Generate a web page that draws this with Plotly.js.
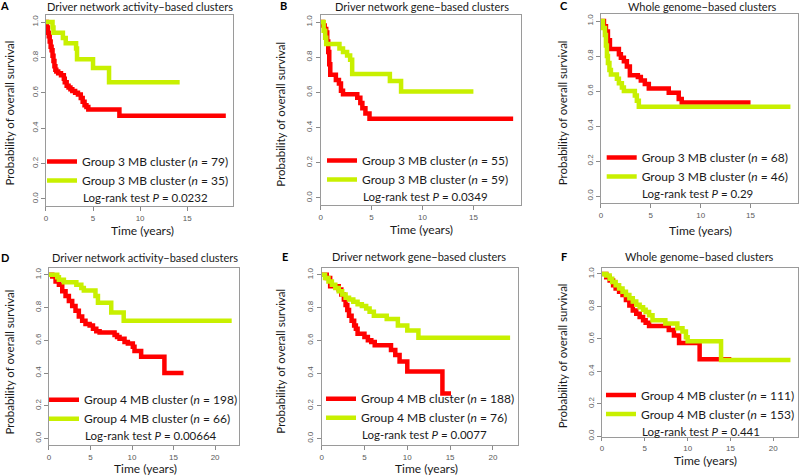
<!DOCTYPE html>
<html>
<head>
<meta charset="utf-8">
<script src="https://cdn.plot.ly/plotly-3.0.1.min.js"></script>
<style>html,body{margin:0;padding:0;background:#fff;}#chart{width:800px;height:476px;}</style>
</head>
<body>
<div id="chart"></div>
<script>
// ---------------- DATA ----------------
const panelLetters = ['A', 'B', 'C', 'D', 'E', 'F'];
const panelTitles = [
  'Driver network activity\u2212based clusters',
  'Driver network gene\u2212based clusters',
  'Whole genome\u2212based clusters',
  'Driver network activity\u2212based clusters',
  'Driver network gene\u2212based clusters',
  'Whole genome\u2212based clusters'
];
const redNames = [
  'Group 3 MB cluster (<i>n</i> = 79)',
  'Group 3 MB cluster (<i>n</i> = 55)',
  'Group 3 MB cluster (<i>n</i> = 68)',
  'Group 4 MB cluster (<i>n</i> = 198)',
  'Group 4 MB cluster (<i>n</i> = 188)',
  'Group 4 MB cluster (<i>n</i> = 111)'
];
const greenNames = [
  'Group 3 MB cluster (<i>n</i> = 35)',
  'Group 3 MB cluster (<i>n</i> = 59)',
  'Group 3 MB cluster (<i>n</i> = 46)',
  'Group 4 MB cluster (<i>n</i> = 66)',
  'Group 4 MB cluster (<i>n</i> = 76)',
  'Group 4 MB cluster (<i>n</i> = 153)'
];
const pValues = ['0.0232', '0.0349', '0.29', '0.00664', '0.0077', '0.441'];
const xTitle = 'Time (years)';
const yTitle = 'Probability of overall survival';
const xTicksTop = [0, 5, 10, 15];
const xTicksBottom = [0, 5, 10, 15, 20];
const yTicks = [0, 0.2, 0.4, 0.6, 0.8, 1.0];
const yTickText = ['0.0', '0.2', '0.4', '0.6', '0.8', '1.0'];

// Panel A
const aRedT = [0, 0.1, 0.2, 0.3, 0.4, 0.5, 0.6, 0.7, 0.8, 0.9, 1.0, 1.1, 1.3, 1.6, 1.9, 2.0, 2.2, 2.4, 2.6, 2.8, 3.1, 3.4, 3.7, 3.9, 4.1, 4.3, 4.5, 7.8, 19.1];
const aRedS = [1.0, 0.97, 0.94, 0.92, 0.89, 0.86, 0.84, 0.81, 0.78, 0.75, 0.73, 0.72, 0.71, 0.70, 0.68, 0.66, 0.64, 0.63, 0.62, 0.61, 0.60, 0.59, 0.57, 0.55, 0.53, 0.52, 0.505, 0.47, 0.47];
const aGreenT = [0, 0.7, 0.8, 1.8, 2.1, 3.2, 3.3, 5.0, 6.7, 14.2];
const aGreenS = [1.0, 0.97, 0.94, 0.91, 0.88, 0.85, 0.79, 0.74, 0.66, 0.66];
// Panel B
const bRedT = [0, 0.2, 0.4, 0.55, 0.65, 0.75, 0.85, 0.95, 1.5, 1.8, 2.0, 2.2, 3.6, 3.9, 4.1, 4.4, 4.8, 18.9];
const bRedS = [1.0, 0.98, 0.96, 0.94, 0.89, 0.83, 0.76, 0.70, 0.67, 0.65, 0.61, 0.59, 0.57, 0.54, 0.51, 0.48, 0.45, 0.45];
const bGreenT = [0, 0.3, 0.45, 0.55, 1.85, 2.2, 2.6, 2.9, 3.1, 6.8, 7.9, 15.0];
const bGreenS = [1.0, 0.95, 0.91, 0.875, 0.85, 0.83, 0.81, 0.785, 0.705, 0.665, 0.605, 0.605];
// Panel C
const cRedT = [0, 0.3, 0.5, 0.7, 0.9, 1.8, 2.0, 2.3, 2.6, 2.9, 3.7, 4.0, 4.4, 4.8, 6.8, 7.8, 8.1, 15.0];
const cRedS = [1.0, 0.97, 0.94, 0.89, 0.84, 0.81, 0.79, 0.77, 0.74, 0.69, 0.68, 0.66, 0.64, 0.615, 0.59, 0.555, 0.535, 0.535];
const cGreenT = [0, 0.2, 0.4, 0.5, 0.6, 0.7, 0.85, 1.0, 1.6, 1.8, 2.1, 2.3, 3.4, 3.6, 3.8, 19.0];
const cGreenS = [1.0, 0.96, 0.92, 0.86, 0.80, 0.76, 0.72, 0.695, 0.67, 0.645, 0.62, 0.60, 0.575, 0.545, 0.51, 0.51];
// Panel D
const dRedT = [0, 0.4, 0.8, 1.2, 1.6, 2.0, 2.4, 2.8, 3.2, 3.6, 4.0, 4.4, 4.9, 5.3, 5.7, 6.1, 7.9, 8.2, 8.5, 9.1, 9.5, 10.1, 10.3, 11.1, 13.9, 16.2];
const dRedS = [1.0, 0.99, 0.96, 0.94, 0.90, 0.87, 0.84, 0.81, 0.78, 0.745, 0.72, 0.70, 0.69, 0.67, 0.655, 0.648, 0.633, 0.62, 0.61, 0.59, 0.58, 0.56, 0.535, 0.50, 0.40, 0.40];
const dGreenT = [0, 1.0, 1.2, 1.8, 3.3, 3.9, 4.2, 5.6, 5.9, 7.5, 9.0, 22.0];
const dGreenS = [1.0, 0.985, 0.97, 0.955, 0.94, 0.92, 0.905, 0.87, 0.83, 0.77, 0.72, 0.72];
// Panel E
const eRedT = [0, 0.6, 1.0, 2.0, 2.3, 2.6, 2.8, 3.0, 3.2, 3.5, 3.8, 4.0, 4.2, 5.0, 5.4, 5.8, 6.2, 8.1, 8.6, 9.1, 10.0, 14.1, 15.1];
const eRedS = [1.0, 0.98, 0.93, 0.91, 0.88, 0.85, 0.815, 0.785, 0.75, 0.72, 0.69, 0.67, 0.64, 0.62, 0.60, 0.59, 0.57, 0.54, 0.51, 0.47, 0.41, 0.275, 0.275];
const eGreenT = [0, 0.4, 0.8, 1.2, 1.6, 2.0, 2.4, 2.8, 3.2, 3.7, 4.2, 4.7, 5.2, 5.6, 6.1, 7.6, 8.9, 10.0, 11.3, 22.0];
const eGreenS = [1.0, 0.98, 0.96, 0.94, 0.92, 0.90, 0.88, 0.86, 0.85, 0.835, 0.82, 0.81, 0.795, 0.775, 0.75, 0.73, 0.69, 0.66, 0.615, 0.615];
// Panel F
const fRedT = [0, 0.5, 0.9, 1.3, 1.6, 2.0, 2.4, 2.8, 3.2, 3.6, 4.0, 4.4, 4.8, 5.1, 5.5, 7.8, 8.4, 9.0, 11.4, 15.1];
const fRedS = [1.0, 0.98, 0.96, 0.93, 0.91, 0.89, 0.87, 0.84, 0.805, 0.775, 0.755, 0.735, 0.715, 0.70, 0.68, 0.655, 0.62, 0.575, 0.475, 0.475];
const fGreenT = [0, 0.5, 0.9, 1.2, 1.6, 2.0, 2.4, 2.8, 3.2, 3.6, 4.0, 4.4, 4.8, 5.1, 5.5, 5.9, 7.4, 8.8, 9.4, 9.8, 10.0, 13.9, 22.0];
const fGreenS = [1.0, 0.99, 0.97, 0.95, 0.93, 0.91, 0.89, 0.87, 0.85, 0.83, 0.81, 0.795, 0.78, 0.765, 0.745, 0.715, 0.695, 0.665, 0.645, 0.61, 0.585, 0.47, 0.47];

const redTimes = [aRedT, bRedT, cRedT, dRedT, eRedT, fRedT];
const redSurv = [aRedS, bRedS, cRedS, dRedS, eRedS, fRedS];
const greenTimes = [aGreenT, bGreenT, cGreenT, dGreenT, eGreenT, fGreenT];
const greenSurv = [aGreenS, bGreenS, cGreenS, dGreenS, eGreenS, fGreenS];

// ---------------- LAYOUT (pixel positions) ----------------
const W = 800, H = 476;
const px = v => v / W;
const py = v => 1 - v / H;
// plot boxes: [left, right, top, bottom]
const boxes = [
  [46, 233.3, 15, 206],
  [321, 521.5, 15, 205],
  [601.7, 799, 14, 203],
  [49, 239.3, 268.3, 445],
  [322, 518.3, 268.3, 445],
  [602.7, 799, 267.5, 437]
];
const yRanges = [[-0.04, 1.04], [-0.04, 1.04], [-0.04, 1.04], [-0.04, 1.04], [-0.04, 1.04], [-0.005, 1.04]];
const xTickLen = [4, 4, 4, 4, 4, 3];
const titlePos = [[140.3, 7], [422.5, 7], [703, 7], [145, 257], [420, 256.5], [700.5, 256.5]];
const letterPos = [[5, 6], [284, 6], [565, 6], [5, 257], [285, 256.5], [565, 256.5]];
const yTitlePos = [[9.5, 113], [280, 114], [563, 113], [9.5, 362], [280, 361], [563, 356]];
const xTitlePos = [[143, 230], [422.5, 229], [701.7, 230], [146, 468.5], [427, 468.5], [706.5, 460]];
// legend: [text start x, first row y]
const legendPos = [[82, 166], [362, 165], [641.7, 162], [84, 404.3], [361, 403.3], [641.7, 399.5]];

const RED = '#ff0000';
const GREEN = '#c8f000';
const TXT = '#1a1a1a';
const FONT = 'Lato, sans-serif';

const traces = [];
const layout = {
  width: W, height: H,
  margin: {l: 0, r: 0, t: 0, b: 0},
  paper_bgcolor: '#ffffff', plot_bgcolor: '#ffffff',
  showlegend: true,
  annotations: []
};

for (let i = 0; i < 6; i++) {
  const k = i === 0 ? '' : String(i + 1);
  const legKey = 'legend' + k;
  const maxT = Math.max(redTimes[i][redTimes[i].length - 1], greenTimes[i][greenTimes[i].length - 1]);
  const [L, R, T, B] = boxes[i];
  const ticks = i < 3 ? xTicksTop : xTicksBottom;

  traces.push({
    x: redTimes[i], y: redSurv[i], type: 'scatter', mode: 'lines',
    line: {shape: 'hv', color: RED, width: 4.5},
    name: redNames[i], xaxis: 'x' + k, yaxis: 'y' + k, legend: legKey, hoverinfo: 'skip'
  });
  traces.push({
    x: greenTimes[i], y: greenSurv[i], type: 'scatter', mode: 'lines',
    line: {shape: 'hv', color: GREEN, width: 4.5},
    name: greenNames[i], xaxis: 'x' + k, yaxis: 'y' + k, legend: legKey, hoverinfo: 'skip'
  });

  layout['xaxis' + k] = {
    domain: [px(L), px(R)], range: [0, maxT * 1.04], anchor: 'y' + k,
    tickvals: ticks, ticktext: ticks.map(String),
    ticks: 'outside', ticklen: xTickLen[i], tickwidth: 1, tickcolor: '#8a8a8a',
    showline: true, mirror: true, linecolor: '#9a9a9a', linewidth: 1,
    showgrid: false, zeroline: false, fixedrange: true,
    tickfont: {family: 'Liberation Sans, Arial, sans-serif', size: 8, color: '#5a5a5a'}
  };
  layout['yaxis' + k] = {
    domain: [py(B), py(T)], range: yRanges[i], anchor: 'x' + k,
    tickvals: yTicks, ticktext: yTickText, tickangle: -90,
    ticks: 'outside', ticklen: 4, tickwidth: 1, tickcolor: '#8a8a8a',
    showline: true, mirror: true, linecolor: '#9a9a9a', linewidth: 1,
    showgrid: false, zeroline: false, fixedrange: true,
    tickfont: {family: 'Liberation Sans, Arial, sans-serif', size: 8, color: '#5a5a5a'}
  };

  const [lx, ly] = legendPos[i];
  const row1 = ly - 4.5;
  layout[legKey] = {
    x: px(lx - 40), y: py(row1 - 14.5), xanchor: 'left', yanchor: 'top',
    bgcolor: 'rgba(0,0,0,0)', borderwidth: 0, tracegroupgap: 0,
    font: {family: FONT, size: 12, color: TXT}, traceorder: 'normal'
  };

  layout.annotations.push({
    xref: 'paper', yref: 'paper', x: px(lx), y: py(row1 + 36), xanchor: 'left', yanchor: 'middle',
    text: 'Log-rank test <i>P</i> = ' + pValues[i], showarrow: false, borderpad: 0,
    font: {family: FONT, size: 11.5, color: TXT}
  });
  layout.annotations.push({
    xref: 'paper', yref: 'paper', x: px(titlePos[i][0]), y: py(titlePos[i][1]), xanchor: 'center', yanchor: 'middle',
    text: panelTitles[i], showarrow: false, borderpad: 0, font: {family: FONT, size: 11, color: TXT}
  });
  layout.annotations.push({
    xref: 'paper', yref: 'paper', x: px(letterPos[i][0]), y: py(letterPos[i][1]), xanchor: 'center', yanchor: 'middle',
    text: '<b>' + panelLetters[i] + '</b>', showarrow: false, borderpad: 0, font: {family: FONT, size: 11, color: '#000'}
  });
  layout.annotations.push({
    xref: 'paper', yref: 'paper', x: px(xTitlePos[i][0]), y: py(xTitlePos[i][1]), xanchor: 'center', yanchor: 'middle',
    text: xTitle, showarrow: false, borderpad: 0, font: {family: FONT, size: 12, color: TXT}
  });
  layout.annotations.push({
    xref: 'paper', yref: 'paper', x: px(yTitlePos[i][0]), y: py(yTitlePos[i][1]), xanchor: 'center', yanchor: 'middle',
    text: yTitle, textangle: -90, showarrow: false, borderpad: 0, font: {family: FONT, size: 11.5, color: TXT}
  });
}

Plotly.newPlot('chart', traces, layout, {staticPlot: true, displayModeBar: false});
</script>
</body>
</html>
